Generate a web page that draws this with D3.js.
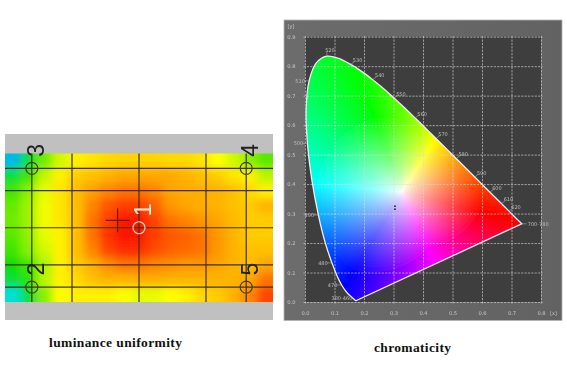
<!DOCTYPE html>
<html><head><meta charset="utf-8">
<script src="https://cdnjs.cloudflare.com/ajax/libs/d3/7.8.5/d3.min.js"></script>
<style>html,body{margin:0;padding:0;background:#fff;overflow:hidden}svg{display:block}</style>
</head><body><svg id="c" width="567" height="370"></svg>
<script>
// ---- luminance uniformity data (relative level) ----
const lumRows = [
 [20,44,58,66,72,74,76,77,77,77,76,76,74,70,66,60,56],
 [44,54,65,72,78,80,82,84,84,84,84,82,80,78,74,72,64],
 [54,60,68,74,80,85,88,90,90,88,84,83,83,82,80,76,72],
 [57,62,69,74,80,88,93,96,96,92,86,84,83,82,80,78,82],
 [58,62,69,74,80,90,96,100,100,95,90,88,86,84,81,78,78],
 [56,61,68,72,80,90,97,100,100,96,93,92,90,86,82,78,78],
 [54,60,66,72,80,88,95,98,98,94,92,91,90,86,82,80,80],
 [50,54,63,72,78,82,87,90,90,88,87,86,86,84,82,80,84],
 [44,52,64,72,76,80,82,82,83,83,82,82,82,82,82,84,90],
 [26,44,60,70,72,72,72,70,68,68,70,72,76,78,82,88,95]
];
const lumStops = [0,25,50,70,85,100];
const lumColors = ["#0020ff","#00e0e0","#10e000","#ffff00","#ffa000","#ff1800"];
const gridFractions = [0.1,0.25,0.5,0.75,0.9];
const pointNames = ["1","2","3","4","5"];
const pointX = [0.5,0.1,0.1,0.9,0.9];
const pointY = [0.5,0.9,0.1,0.1,0.9];
const centroid = [0.42,0.45];

// ---- chromaticity data (spectral locus, CIE 1931) ----
const wavelengths = [380,400,420,430,440,450,460,470,475,480,485,490,495,500,505,510,515,520,525,530,535,540,545,550,555,560,565,570,575,580,585,590,595,600,610,620,630,640,650,700];
const locusX = [.1741,.1733,.1714,.1689,.1644,.1566,.1440,.1241,.1096,.0913,.0687,.0454,.0235,.0082,.0039,.0139,.0389,.0743,.1142,.1547,.1929,.2296,.2658,.3016,.3373,.3731,.4087,.4441,.4788,.5125,.5448,.5752,.6029,.6270,.6658,.6915,.7079,.7190,.7260,.7347];
const locusY = [.0050,.0048,.0051,.0069,.0109,.0177,.0297,.0578,.0868,.1327,.2007,.2950,.4127,.5384,.6548,.7502,.8120,.8338,.8262,.8059,.7816,.7543,.7243,.6923,.6589,.6245,.5896,.5547,.5202,.4866,.4544,.4242,.3965,.3725,.3340,.3083,.2920,.2809,.2740,.2653];
const labelWl = [520,530,540,550,560,570,580,590,600,610,620,510,500,490,480,470];
const labelRight = [520,530,540,550,560,570,580,590,600,610,620];
const chromaTicksX = [0,.1,.2,.3,.4,.5,.6,.7,.8];
const chromaTicksY = [0,.1,.2,.3,.4,.5,.6,.7,.8,.9];
const measuredX = [.305,.305];
const measuredY = [.325,.315];
// colour field anchors: white point and saturated hues
const whiteXY = [.328,.374];
const hueNames = [0,60,120,180,240,300];
const hueAnchorX = [.60,.434,.232,.03,.16,.42];
const hueAnchorY = [.305,.54,.634,.40,.10,.18];

const svg = d3.select("#c");
const defs = svg.append("defs");
const soft = (id,s)=>defs.append("filter").attr("id",id).attr("x","-20%").attr("y","-20%").attr("width","140%").attr("height","140%")
  .append("feGaussianBlur").attr("stdDeviation",s);
soft("b3",4.5); soft("b1",0.5); soft("b2",0.35); soft("b5",0.6);

// ================= LEFT PANEL =================
const L = {x0:5,x1:273,y0:153.5,y1:302,top:134,bottom:320};
svg.append("rect").attr("x",L.x0).attr("y",L.top).attr("width",L.x1-L.x0).attr("height",L.bottom-L.top).attr("fill","#c0c0c0");
defs.append("clipPath").attr("id","heatClip").append("rect").attr("x",L.x0).attr("y",L.y0).attr("width",L.x1-L.x0).attr("height",L.y1-L.y0);
const colBand = d3.scaleBand().domain(d3.range(lumRows[0].length)).range([L.x0,L.x1]);
const rowBand = d3.scaleBand().domain(d3.range(lumRows.length)).range([L.y0,L.y1]);
const lumColor = d3.scaleLinear().domain(lumStops).range(lumColors).interpolate(d3.interpolateRgb).clamp(true);
const pad = 16;
const heat = svg.append("g").attr("clip-path","url(#heatClip)").append("g").attr("filter","url(#b3)");
lumRows.forEach((row,r)=>{
  heat.selectAll(null).data(row).join("rect")
    .attr("x",(d,c)=>colBand(c)-(c===0?pad:0))
    .attr("y",rowBand(r)-(r===0?pad:0))
    .attr("width",(d,c)=>colBand.bandwidth()+((c===0||c===row.length-1)?pad:0)+.5)
    .attr("height",rowBand.bandwidth()+((r===0||r===lumRows.length-1)?pad:0)+.5)
    .attr("fill",d=>lumColor(d));
});
const hx = d3.scaleLinear().domain([0,1]).range([L.x0,L.x1]);
const hy = d3.scaleLinear().domain([0,1]).range([L.y0,L.y1]);
const lg = svg.append("g").attr("filter","url(#b2)");
lg.selectAll(".gv").data(gridFractions).join("line").attr("x1",hx).attr("x2",hx).attr("y1",L.y0).attr("y2",L.y1).attr("stroke","#3c3310").attr("stroke-width",1.2);
lg.selectAll(".gh").data(gridFractions).join("line").attr("y1",hy).attr("y2",hy).attr("x1",L.x0).attr("x2",L.x1).attr("stroke","#3c3310").attr("stroke-width",1.2);
pointNames.forEach((n,i)=>{
  const col = n==="1"?"#f0d8c8":"#4a4010";
  const px=hx(pointX[i]), py=hy(pointY[i]);
  lg.append("circle").attr("cx",px).attr("cy",py).attr("r",6).attr("fill","none").attr("stroke",col).attr("stroke-width",1.2);
  const tx=px+3.5, ty=py-18;
  lg.append("text").attr("transform",`translate(${tx},${ty}) rotate(-90)`).attr("text-anchor","middle").attr("dy","0.36em")
    .attr("font-family","Liberation Sans, sans-serif").attr("font-size",23).attr("fill",n==="1"?"#fff2e8":"#222").text(n);
});
const cx=hx(centroid[0]), cy=hy(centroid[1]);
lg.append("line").attr("x1",cx-12).attr("x2",cx+12).attr("y1",cy).attr("y2",cy).attr("stroke","#6a1808").attr("stroke-width",1.2);
lg.append("line").attr("y1",cy-12).attr("y2",cy+12).attr("x1",cx).attr("x2",cx).attr("stroke","#6a1808").attr("stroke-width",1.2);

// ================= RIGHT PANEL =================
const P = {l:284,r:562,t:20,b:320.5};
const grad = defs.append("linearGradient").attr("id","pg").attr("x1",0).attr("x2",1).attr("y1",0).attr("y2",0);
grad.append("stop").attr("offset",0).attr("stop-color","#6c6c6c");
grad.append("stop").attr("offset",1).attr("stop-color","#626262");
svg.append("rect").attr("x",P.l).attr("y",P.t).attr("width",P.r-P.l).attr("height",P.b-P.t).attr("fill","url(#pg)").attr("stroke","#b4b4b4").attr("stroke-width",.8);
const X = d3.scaleLinear().domain([0,.8]).range([305,541]);
const Y = d3.scaleLinear().domain([0,.9]).range([302,36.7]);
svg.append("rect").attr("x",X(0)).attr("y",Y(.9)).attr("width",X(.8)-X(0)).attr("height",Y(0)-Y(.9)).attr("fill","#3e3e3e");

// colour field: hue by angle round the white point, saturation by distance
const a0=Math.atan2(hueAnchorY[0]-whiteXY[1],hueAnchorX[0]-whiteXY[0]);
const norm=a=>{while(a<a0)a+=2*Math.PI;while(a>=a0+2*Math.PI)a-=2*Math.PI;return a;};
const angles=hueNames.map((h,i)=>norm(Math.atan2(hueAnchorY[i]-whiteXY[1],hueAnchorX[i]-whiteXY[0])));
const radii=hueNames.map((h,i)=>Math.hypot(hueAnchorY[i]-whiteXY[1],hueAnchorX[i]-whiteXY[0]));
const hueOf=d3.scaleLinear().domain([...angles,a0+2*Math.PI]).range([...hueNames,360]);
const radOf=d3.scaleLinear().domain([...angles,a0+2*Math.PI]).range([...radii,radii[0]]);
const W=Math.ceil(X(.8)-X(0)), H=Math.ceil(Y(0)-Y(.9));
const cv=document.createElement("canvas"); cv.width=W; cv.height=H;
const ctx=cv.getContext("2d"); const im=ctx.createImageData(W,H);
for(let j=0;j<H;j++)for(let i=0;i<W;i++){
  const x=X.invert(X(0)+i+.5), y=Y.invert(Y(.9)+j+.5);
  const dx=x-whiteXY[0], dy=y-whiteXY[1];
  const a=norm(Math.atan2(dy,dx)), t=Math.min(1,Math.hypot(dx,dy)/radOf(a));
  const s=Math.pow(t,.75);
  const c=d3.hsl(hueOf(a)%360,1,.5).rgb();
  const k=(j*W+i)*4;
  im.data[k]=255-s*(255-c.r);im.data[k+1]=255-s*(255-c.g);im.data[k+2]=255-s*(255-c.b);im.data[k+3]=255;
}
ctx.putImageData(im,0,0);
const locusLine=d3.line().x(d=>X(d[0])).y(d=>Y(d[1])).curve(d3.curveCatmullRom);
const locus=locusX.map((x,i)=>[x,locusY[i]]);
const locusPath=locusLine(locus)+"Z";
defs.append("clipPath").attr("id","locClip").append("path").attr("d",locusPath);
svg.append("image").attr("x",X(0)).attr("y",Y(.9)).attr("width",W).attr("height",H)
  .attr("href",cv.toDataURL()).attr("clip-path","url(#locClip)").attr("filter","url(#b5)");

// grid via axes
const gridG=svg.append("g").attr("filter","url(#b1)");
const ax=d3.axisBottom(X).tickValues(chromaTicksX).tickFormat(d3.format(".1f")).tickSize(-(Y(0)-Y(.9))-3).tickPadding(8);
const ay=d3.axisLeft(Y).tickValues(chromaTicksY).tickFormat(d3.format(".1f")).tickSize(-(X(.8)-X(0))-3).tickPadding(8);
const axG=gridG.append("g").attr("transform",`translate(0,${Y(0)+1.5})`).call(ax);
const ayG=gridG.append("g").attr("transform",`translate(${X(0)-1.5},0)`).call(ay);
[axG,ayG].forEach(g=>{
  g.select(".domain").remove();
  g.selectAll("line").attr("stroke","#d8d8d8").attr("stroke-width",.9).attr("stroke-dasharray","2.2,1.2").attr("opacity",.7);
  g.selectAll("text").attr("fill","#c4c4c4").attr("font-family","DejaVu Sans, sans-serif").attr("font-size",5.2);
});
ayG.selectAll("text").attr("x",-8);
gridG.append("text").attr("x",291).attr("y",28).attr("text-anchor","middle").attr("fill","#c4c4c4").attr("font-size",5).attr("font-family","DejaVu Sans, sans-serif").text("[y]");
gridG.append("text").attr("x",553.5).attr("y",Y(0)+12.5).attr("text-anchor","middle").attr("fill","#c4c4c4").attr("font-size",5).attr("font-family","DejaVu Sans, sans-serif").text("[x]");

// locus outline + labels
svg.append("path").attr("d",locusPath).attr("fill","none").attr("stroke","#f4eef4").attr("stroke-width",1.3).attr("filter","url(#b2)");
const lab=svg.append("g").attr("filter","url(#b1)").attr("fill","#bcbcbc").attr("font-family","DejaVu Sans, sans-serif").attr("font-size",5);
labelWl.forEach(w=>{
  const i=wavelengths.indexOf(w), px=X(locusX[i]), py=Y(locusY[i]);
  const right=labelRight.includes(w);
  const tx=right?px+(w===520?3:7):px-9, ty=right?py-(w===520?6:4):py;
  lab.append("line").attr("x1",px).attr("y1",py).attr("x2",right?tx-3:tx+4).attr("y2",right?ty+1:ty).attr("stroke","#bcbcbc").attr("stroke-width",.5);
  lab.append("text").attr("x",tx).attr("y",ty).attr("dy","0.35em").attr("text-anchor","middle").text(w);
});
lab.append("line").attr("x1",X(.7347)).attr("y1",Y(.2653)).attr("x2",X(.7347)+5).attr("y2",Y(.2653)).attr("stroke","#bcbcbc").attr("stroke-width",.5);
lab.append("text").attr("x",X(.7347)+6).attr("y",Y(.2653)).attr("dy","0.35em").text("700-780");
lab.append("text").attr("x",X(.1741)-4).attr("y",Y(.0050)-1.5).attr("dy","0.1em").attr("text-anchor","end").text("380-460");

svg.append("g").selectAll("circle").data(measuredX).join("circle")
  .attr("cx",d=>X(d)).attr("cy",(d,i)=>Y(measuredY[i])).attr("r",.9).attr("fill","#222");

// ================= CAPTIONS =================
const cap=(x,y,t,len)=>svg.append("text").attr("x",x).attr("y",y).attr("font-family","Liberation Serif, serif").attr("font-weight","bold")
  .attr("font-size",13.5).attr("fill","#111").attr("textLength",len).attr("lengthAdjust","spacing").text(t);
cap(49,346.5,"luminance uniformity",133);
cap(374,351.5,"chromaticity",77);
</script></body></html>
